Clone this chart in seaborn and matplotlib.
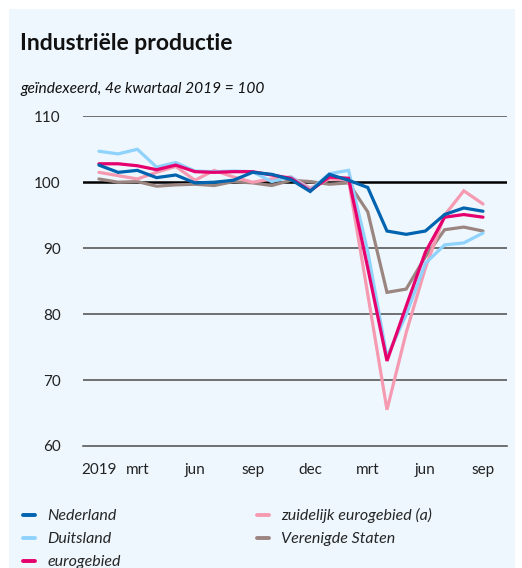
import numpy as np
import pandas as pd
import seaborn as sns
import matplotlib.pyplot as plt
from matplotlib.patches import Rectangle
from matplotlib.lines import Line2D

# maanden jan 2019 t/m sep 2020
maanden = list(range(21))
tick_labels = ["2019", "", "mrt", "", "", "jun", "", "", "sep", "", "", "dec",
               "", "", "mrt", "", "", "jun", "", "", "sep"]

nederland = [102.6, 101.5, 101.8, 100.7, 101.1, 99.9, 100.0, 100.3, 101.5, 101.2, 100.4,
             98.6, 101.2, 100.3, 99.2, 92.6, 92.1, 92.6, 95.1, 96.1, 95.6]
duitsland = [104.7, 104.3, 105.0, 102.3, 103.0, 101.7, 101.6, 101.7, 101.6, 100.1, 100.8,
             98.8, 101.3, 101.8, 89.5, 73.5, 79.9, 87.7, 90.5, 90.8, 92.3]
eurogebied = [102.8, 102.8, 102.5, 101.9, 102.6, 101.6, 101.5, 101.6, 101.6, 101.1, 100.6,
              98.7, 100.8, 100.6, 87.0, 72.9, 81.2, 89.4, 94.7, 95.1, 94.7]
zuidelijk = [101.5, 101.0, 100.5, 101.5, 102.4, 100.3, 101.8, 100.8, 100.0, 100.5, 100.8,
             99.1, 100.5, 100.3, 83.0, 65.5, 77.2, 87.0, 95.0, 98.7, 96.7]
vs = [100.5, 100.0, 100.1, 99.4, 99.6, 99.7, 99.5, 100.1, 99.9, 99.5, 100.3,
      100.1, 99.7, 99.9, 95.5, 83.3, 83.8, 88.7, 92.8, 93.2, 92.6]

reeksen = {
    "Nederland": (nederland, "#0063af"),
    "Duitsland": (duitsland, "#8fd2fb"),
    "eurogebied": (eurogebied, "#e5006d"),
    "zuidelijk eurogebied (a)": (zuidelijk, "#f59ab1"),
    "Verenigde Staten": (vs, "#9a8581"),
}
teken_volgorde = ["Verenigde Staten", "zuidelijk eurogebied (a)", "Duitsland", "eurogebied", "Nederland"]

sns.set_style("white")
plt.rcParams["font.family"] = ["Lato", "DejaVu Sans"]

achtergrond = "#eef7fe"
fig = plt.figure(figsize=(5.22, 5.68), dpi=100)
fig.patch.set_facecolor("white")
fig.patches.append(Rectangle((9 / 522, 0), 506 / 522, 1 - 9 / 568, transform=fig.transFigure,
                             facecolor=achtergrond, edgecolor="none", zorder=-10))

ax = fig.add_axes([83 / 522, 1 - 446 / 568, 424 / 522, 329.7 / 568])
ax.set_zorder(1)
ax.set_facecolor("none")

for naam in teken_volgorde:
    waarden, kleur = reeksen[naam]
    df = pd.DataFrame({"maand": maanden, "index": waarden})
    sns.lineplot(data=df, x="maand", y="index", color=kleur, linewidth=2.3, ax=ax,
                 solid_joinstyle="miter", zorder=3)

# rasterlijnen
for y in [70, 80, 90, 110]:
    ax.axhline(y, color="#4a4a4a", linewidth=1.1, zorder=1)
ax.axhline(100, color="black", linewidth=1.8, zorder=2)

ax.set_xlim(-0.83, 21.25)
ax.set_ylim(60, 110)
ax.set_yticks([60, 70, 80, 90, 100, 110])
ax.set_yticklabels(["60", "70", "80", "90", "100", "110"])
ax.set_xticks(maanden)
ax.set_xticklabels(tick_labels)
ax.tick_params(axis="y", length=0, pad=16, labelsize=11, labelcolor="#222222")
ax.tick_params(axis="x", length=4, width=1, color="#4a4a4a", pad=8, labelsize=11,
               labelcolor="#222222", direction="out")
for s in ["top", "right", "left"]:
    ax.spines[s].set_visible(False)
ax.spines["bottom"].set_color("#4a4a4a")
ax.spines["bottom"].set_linewidth(1.1)
ax.set_xlabel("")
ax.set_ylabel("")

fig.text(20 / 522, 1 - 50 / 568, "Industriële productie", fontsize=16.5, fontweight="bold",
         color="#111111")
fig.text(20 / 522, 1 - 93 / 568, "geïndexeerd, 4e kwartaal 2019 = 100", fontsize=11.2,
         style="italic", color="#111111")

legend_volgorde = ["Nederland", "Duitsland", "eurogebied", "zuidelijk eurogebied (a)", "Verenigde Staten"]
handles = [Line2D([], [], color=reeksen[n][1], linewidth=2.8) for n in legend_volgorde]
fig.legend(handles, legend_volgorde, loc="upper left", bbox_to_anchor=(17 / 522, 1 - 502 / 568),
           ncol=2, frameon=False, handlelength=0.75, handletextpad=0.75, columnspacing=8.55,
           labelspacing=0.55, borderaxespad=0, prop={"style": "italic", "size": 11.5})

fig.savefig("out.png", dpi=100, facecolor="white")
